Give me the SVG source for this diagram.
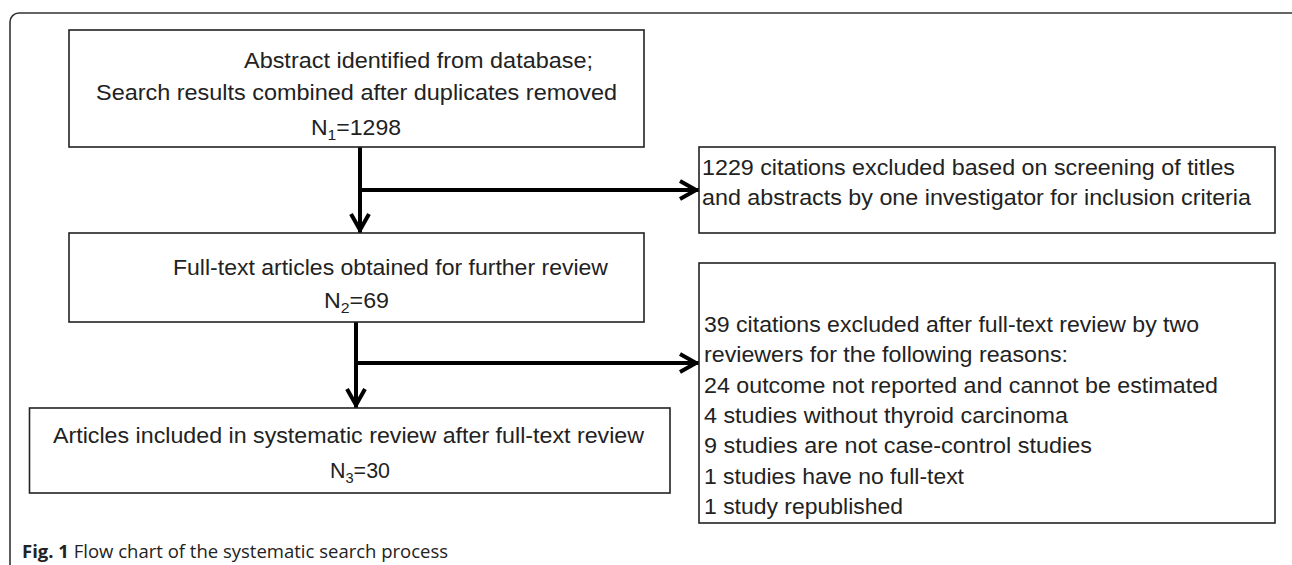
<svg xmlns="http://www.w3.org/2000/svg" width="1292" height="565" viewBox="0 0 1292 565">
<style>
.frame{fill:none;stroke:#333;stroke-width:1.6}
.box{fill:#fff;stroke:#222;stroke-width:1.6}
.t{font-family:"Liberation Sans",Arial,sans-serif;font-size:22px;fill:#222}
.conn{fill:none;stroke:#000;stroke-width:4}
.cap{font-family:"Open Sans",sans-serif;font-size:18.5px;fill:#222}
</style>
<defs>
<marker id="arr" markerUnits="userSpaceOnUse" markerWidth="30" markerHeight="30" viewBox="-25 -15 30 30" refX="0" refY="0" orient="auto">
<path d="M-19,-9 L-3,0 L-19,9" fill="none" stroke="#000" stroke-width="4"/>
</marker>
</defs>
<rect class="frame" x="10" y="13" width="1290" height="600" rx="9"/>
<g id="connectors">
<path class="conn" d="M360,147 V233" marker-end="url(#arr)"/>
<path class="conn" d="M360,190 H699" marker-end="url(#arr)"/>
<path class="conn" d="M356,322 V408" marker-end="url(#arr)"/>
<path class="conn" d="M356,363 H699" marker-end="url(#arr)"/>
</g>
<g id="n1">
<rect class="box" x="69" y="30" width="575" height="117"/>
<text class="t" x="244" y="68" textLength="349" lengthAdjust="spacingAndGlyphs">Abstract identified from database;</text>
<text class="t" x="96" y="100" textLength="521" lengthAdjust="spacingAndGlyphs">Search results combined after duplicates removed</text>
<text class="t" x="311" y="135" textLength="90" lengthAdjust="spacingAndGlyphs">N<tspan font-size="15" dy="5">1</tspan><tspan dy="-5">=1298</tspan></text>
</g>
<g id="n2">
<rect class="box" x="699" y="147" width="576" height="86"/>
<text class="t" x="702" y="175" textLength="533" lengthAdjust="spacingAndGlyphs">1229 citations excluded based on screening of titles</text>
<text class="t" x="702" y="205" textLength="549" lengthAdjust="spacingAndGlyphs">and abstracts by one investigator for inclusion criteria</text>
</g>
<g id="n3">
<rect class="box" x="69" y="233" width="575" height="89"/>
<text class="t" x="173" y="275" textLength="435" lengthAdjust="spacingAndGlyphs">Full-text articles obtained for further review</text>
<text class="t" x="324" y="308" textLength="65" lengthAdjust="spacingAndGlyphs">N<tspan font-size="15" dy="5">2</tspan><tspan dy="-5">=69</tspan></text>
</g>
<g id="n4">
<rect class="box" x="699" y="263" width="576" height="260"/>
<text class="t" x="704" y="332" textLength="495" lengthAdjust="spacingAndGlyphs">39 citations excluded after full-text review by two</text>
<text class="t" x="704" y="362" textLength="364" lengthAdjust="spacingAndGlyphs">reviewers for the following reasons:</text>
<text class="t" x="704" y="393" textLength="514" lengthAdjust="spacingAndGlyphs">24 outcome not reported and cannot be estimated</text>
<text class="t" x="704" y="423" textLength="364" lengthAdjust="spacingAndGlyphs">4 studies without thyroid carcinoma</text>
<text class="t" x="704" y="453" textLength="388" lengthAdjust="spacingAndGlyphs">9 studies are not case-control studies</text>
<text class="t" x="704" y="484" textLength="260" lengthAdjust="spacingAndGlyphs">1 studies have no full-text</text>
<text class="t" x="704" y="514" textLength="199" lengthAdjust="spacingAndGlyphs">1 study republished</text>
</g>
<g id="n5">
<rect class="box" x="29.5" y="408" width="640.5" height="85"/>
<text class="t" x="53" y="443" textLength="591" lengthAdjust="spacingAndGlyphs">Articles included in systematic review after full-text review</text>
<text class="t" x="330" y="478" textLength="60" lengthAdjust="spacingAndGlyphs">N<tspan font-size="15" dy="5">3</tspan><tspan dy="-5">=30</tspan></text>
</g>
<g id="caption">
<text class="cap" x="22" y="558"><tspan font-weight="bold">Fig. 1</tspan> Flow chart of the systematic search process</text>
</g>
</svg>
